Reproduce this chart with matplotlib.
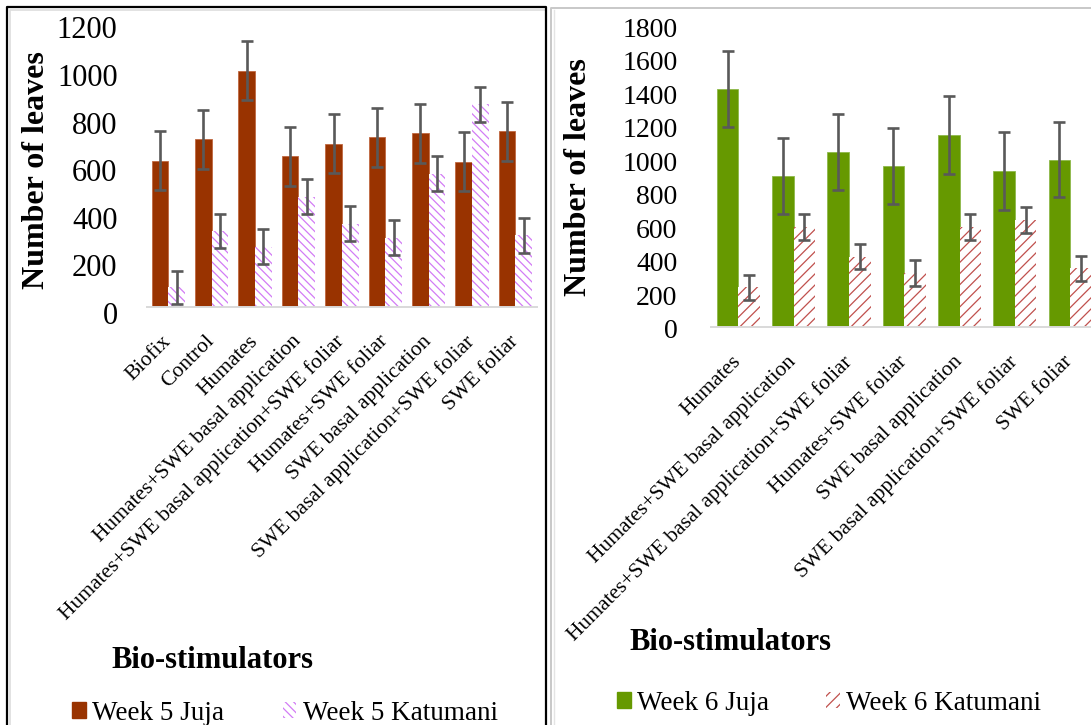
import matplotlib.pyplot as plt
import matplotlib.transforms as mtransforms
import numpy as np
from matplotlib.lines import Line2D
from matplotlib.patches import Patch

# Week 5 data (left panel)
cats_w5 = ['Biofix', 'Control', 'Humates', 'Humates+SWE basal application',
           'Humates+SWE basal application+SWE foliar', 'Humates+SWE foliar',
           'SWE basal application', 'SWE basal application+SWE foliar', 'SWE foliar']
juja_w5 = [615, 705, 993, 632, 685, 712, 729, 610, 738]
juja_w5_err = [124, 124, 124, 124, 124, 124, 124, 124, 123]
kat_w5 = [81, 318, 252, 463, 350, 290, 560, 851, 300]
kat_w5_err = [71, 72, 73, 73, 72, 73, 73, 73, 73]

# Week 6 data (right panel)
cats_w6 = ['Humates', 'Humates+SWE basal application',
           'Humates+SWE basal application+SWE foliar', 'Humates+SWE foliar',
           'SWE basal application', 'SWE basal application+SWE foliar', 'SWE foliar']
juja_w6 = [1423, 903, 1048, 965, 1148, 933, 1001]
juja_w6_err = [226, 226, 226, 226, 230, 230, 226]
kat_w6 = [239, 599, 421, 322, 597, 642, 352]
kat_w6_err = [76, 77, 74, 77, 78, 78, 76]

plt.rcParams['font.family'] = ['Liberation Serif', 'DejaVu Serif']
plt.rcParams['hatch.linewidth'] = 0.9

W, H = 1091, 725
fig = plt.figure(figsize=(W / 100, H / 100), dpi=100)


def px_axes(x0, x1, y_top, y_base):
    return fig.add_axes([x0 / W, 1 - y_base / H, (x1 - x0) / W, (y_base - y_top) / H])


def fig_line(xs, ys, color, lw):
    fig.add_artist(Line2D([x / W for x in xs], [1 - y / H for y in ys],
                          transform=fig.transFigure, color=color, lw=lw))


def draw_panel(ax, cats, juja, juja_err, kat, kat_err, ymax, step,
               juja_color, juja_edge, kat_color, hatch, width, tick_fs, pad, ydrop):
    x = np.arange(len(cats))
    ax.bar(x - width / 2, juja, width, color=juja_color, edgecolor=juja_edge,
           linewidth=0.6, zorder=2)
    ax.bar(x + width / 2, kat, width, color='white', edgecolor=kat_color,
           hatch=hatch, linewidth=0, zorder=2)
    for xs, ys, es in [(x - width / 2, juja, juja_err), (x + width / 2, kat, kat_err)]:
        ax.errorbar(xs, ys, yerr=es, fmt='none', ecolor='#595959', elinewidth=1.9,
                    capsize=4.3, capthick=1.9, zorder=3)
    ax.set_xlim(-0.5, len(cats) - 0.5)
    ax.set_ylim(0, ymax)
    ax.set_yticks(np.arange(0, ymax + 1, step))
    ax.tick_params(axis='y', length=0, labelsize=tick_fs, pad=pad)
    shift = mtransforms.ScaledTranslation(0, -ydrop / 100, fig.dpi_scale_trans)
    for lab in ax.get_yticklabels():
        lab.set_transform(lab.get_transform() + shift)
    ax.set_xticks(x)
    ax.set_xticklabels(cats, rotation=45, ha='right', va='center',
                       rotation_mode='anchor', fontsize=15.5)
    ax.tick_params(axis='x', length=0, pad=23)
    for s in ['top', 'right', 'left']:
        ax.spines[s].set_visible(False)
    ax.spines['bottom'].set_color('#D9D9D9')
    ax.spines['bottom'].set_linewidth(1.4)


# left panel: week 5
ax1 = px_axes(146.7, 537, 21.5, 306.7)
draw_panel(ax1, cats_w5, juja_w5, juja_w5_err, kat_w5, kat_w5_err, 1200, 200,
           '#993300', '#C06840', '#D27CF5', '\\\\\\\\', 0.385, 22, 21, 6)
fig.text(37 / W, 1 - 170 / H, 'Number of leaves', rotation=90, fontsize=23,
         fontweight='bold', ha='center', va='center')
fig.text(212 / W, 1 - 660 / H, 'Bio-stimulators', fontsize=22, fontweight='bold',
         ha='center', va='center')
ax1.legend(handles=[Patch(facecolor='#993300', edgecolor='#993300'),
                    Patch(facecolor='white', edgecolor='#D27CF5', hatch='\\\\\\\\', lw=0)],
           labels=['Week 5 Juja', 'Week 5 Katumani'], loc='center left',
           bbox_to_anchor=(72 / W, 1 - 713 / H), bbox_transform=fig.transFigure,
           ncol=2, frameon=False, fontsize=19.5, handlelength=0.5, handleheight=0.5,
           handletextpad=0.25, columnspacing=2.15, borderpad=0, borderaxespad=0)

# right panel: week 6 (runs off the right edge)
ax2 = px_axes(710.7, 1097.8, 25.8, 327.3)
draw_panel(ax2, cats_w6, juja_w6, juja_w6_err, kat_w6, kat_w6_err, 1800, 200,
           '#669900', '#8DB84A', '#C0504D', '///', 0.39, 20, 24, 1.5)
fig.text(578 / W, 1 - 177 / H, 'Number of leaves', rotation=90, fontsize=23,
         fontweight='bold', ha='center', va='center')
fig.text(730 / W, 1 - 643 / H, 'Bio-stimulators', fontsize=22, fontweight='bold',
         ha='center', va='center')
ax2.legend(handles=[Patch(facecolor='#669900', edgecolor='#669900'),
                    Patch(facecolor='white', edgecolor='#C0504D', hatch='///', lw=0)],
           labels=['Week 6 Juja', 'Week 6 Katumani'], loc='center left',
           bbox_to_anchor=(617 / W, 1 - 703 / H), bbox_transform=fig.transFigure,
           ncol=2, frameon=False, fontsize=19.5, handlelength=0.5, handleheight=0.5,
           handletextpad=0.25, columnspacing=2.1, borderpad=0, borderaxespad=0)

# panel frames
fig_line([10, 10, 545], [725, 10, 10], '#DDDDDD', 1.2)
fig_line([6.5, 6.5, 546, 546], [725, 7, 7, 725], 'black', 1.6)
fig_line([551, 551, 1091], [725, 7.5, 7.5], '#C8C8C8', 1.4)
fig_line([554, 554], [725, 10], '#E4E4E4', 1.0)

fig.savefig('out.png', dpi=100)
